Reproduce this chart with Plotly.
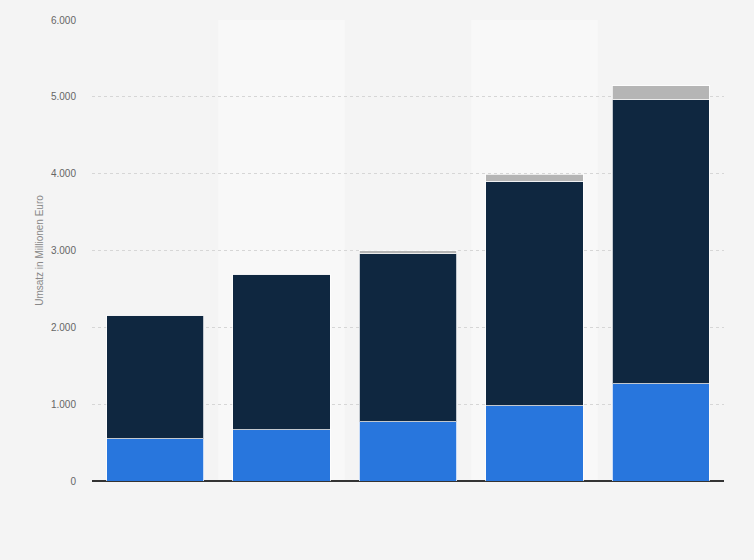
import plotly.graph_objects as go

categories = ["A", "B", "C", "D", "E"]
series_blue = [547, 664, 768, 980, 1263]
series_dark = [1611, 2027, 2188, 2922, 3698]
series_gray = [0, 0, 39, 91, 186]
y_ticks = [0, 1000, 2000, 3000, 4000, 5000, 6000]

fig = go.Figure()
line_style = dict(color="rgba(255,255,255,0.75)", width=1)
fig.add_trace(go.Bar(x=categories, y=series_blue, name="Serie 1",
                     marker=dict(color="#2876dd", line=line_style)))
fig.add_trace(go.Bar(x=categories, y=series_dark, name="Serie 2",
                     marker=dict(color="#0f2740", line=line_style)))
fig.add_trace(go.Bar(x=categories, y=series_gray, name="Serie 3",
                     marker=dict(color="#b5b5b5", line=line_style)))

shapes = []
for i in (1, 3):
    shapes.append(dict(type="rect", xref="x", yref="paper",
                       x0=i - 0.5, x1=i + 0.5, y0=0, y1=1,
                       fillcolor="#f8f8f8", line=dict(width=0), layer="below"))

fig.update_layout(
    barmode="stack",
    bargap=0.23,
    width=754, height=560,
    margin=dict(l=92, r=30, t=20, b=79),
    paper_bgcolor="#f4f4f4",
    plot_bgcolor="#f4f4f4",
    showlegend=False,
    separators=",.",
    font=dict(family="Arial, Liberation Sans, sans-serif", size=10, color="#666"),
    shapes=shapes,
    xaxis=dict(showticklabels=False, showgrid=False, zeroline=False,
               showline=False, ticks=""),
    yaxis=dict(range=[0, 6000], tickvals=y_ticks, tickformat=",d",
               showgrid=True, gridcolor="#d6d6d6", griddash="dot", gridwidth=1,
               zeroline=True, zerolinecolor="#333", zerolinewidth=1.5,
               ticks="", ticklabelstandoff=15,
               tickfont=dict(size=10, color="#666"),
               title=dict(text="Umsatz in Millionen Euro", standoff=5,
                          font=dict(size=10, color="#888"))),
)

fig.write_html(
    "out.html",
    config={"displayModeBar": False},
    post_script="document.body.style.margin='0';document.body.style.background='#f4f4f4';",
)
